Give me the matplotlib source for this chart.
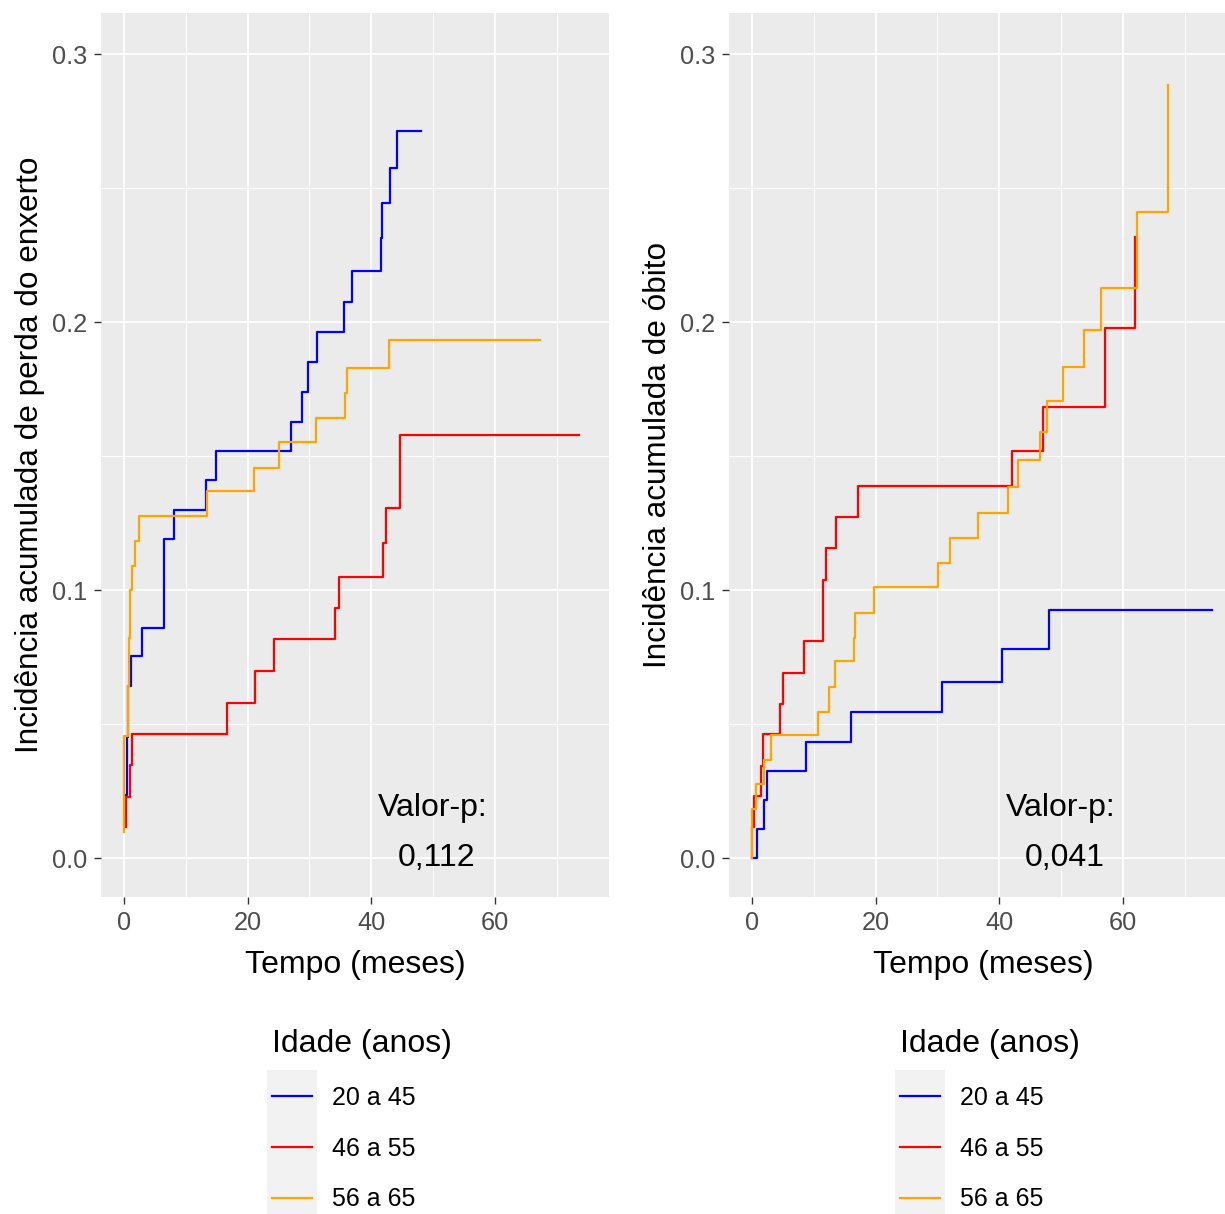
import matplotlib
matplotlib.use("Agg")
import matplotlib.pyplot as plt
from matplotlib.patches import Rectangle
from matplotlib.lines import Line2D
from matplotlib.ticker import MultipleLocator

plt.rcParams['font.family'] = ['Liberation Sans', 'DejaVu Sans']

# ---------------- data ----------------
groups = ["20 a 45", "46 a 55", "56 a 65"]
colors = ["#0000FF", "#FF0000", "#FFA500"]

# Left panel: cumulative incidence of graft loss
graft_t_20_45 = [0.32, 0.45, 0.55, 0.6, 0.7, 1.1, 2.85, 6.4, 6.5, 8.1, 13.3, 14.8, 27.0, 28.8,
                 29.7, 31.2, 35.6, 36.9, 41.5, 41.8, 43.1, 44.1, 48.0]
graft_v_20_45 = [0.0235, 0.0322, 0.0453, 0.0540, 0.0643, 0.0755, 0.0859, 0.1077, 0.1189, 0.1300,
                 0.1409, 0.1519, 0.1628, 0.1738, 0.1852, 0.1964, 0.2076, 0.2189, 0.2314, 0.2445,
                 0.2576, 0.2714, 0.2714]
graft_t_46_55 = [0.32, 0.36, 0.97, 1.24, 16.6, 21.2, 24.2, 34.1, 34.7, 41.9, 42.3, 44.6, 73.6]
graft_v_46_55 = [0.0114, 0.0229, 0.0347, 0.0463, 0.0580, 0.0698, 0.0816, 0.0933, 0.1050, 0.1174,
                 0.1307, 0.1580, 0.1580]
graft_t_56_65 = [0.0, 0.05, 0.7, 0.85, 1.0, 1.3, 1.7, 2.4, 13.4, 21.0, 25.1, 31.1, 35.8, 36.1,
                 42.9, 67.3]
graft_v_56_65 = [0.0096, 0.0456, 0.0640, 0.0820, 0.1000, 0.1091, 0.1184, 0.1275, 0.1369, 0.1456,
                 0.1551, 0.1641, 0.1734, 0.1829, 0.1933, 0.1933]

# Right panel: cumulative incidence of death
death_t_20_45 = [0.0, 0.86, 1.9, 2.4, 8.7, 16.0, 30.8, 40.4, 48.1, 74.4]
death_v_20_45 = [0.0, 0.0107, 0.0216, 0.0325, 0.0433, 0.0544, 0.0657, 0.0780, 0.0924, 0.0924]
death_t_46_55 = [0.0, 0.05, 0.3, 1.4, 1.7, 4.5, 5.07, 8.4, 11.5, 11.9, 13.6, 17.1, 42.0, 47.0,
                 57.1, 62.0]
death_v_46_55 = [0.0, 0.0114, 0.0231, 0.0344, 0.0463, 0.0575, 0.0689, 0.0808, 0.1037, 0.1158,
                 0.1272, 0.1388, 0.1519, 0.1684, 0.1979, 0.2318]
death_t_56_65 = [0.0, 0.05, 0.6, 1.9, 3.1, 10.7, 12.45, 13.4, 16.5, 16.7, 19.7, 30.1, 32.1, 36.6,
                 41.4, 43.0, 46.5, 47.7, 50.3, 53.7, 56.5, 62.3, 67.2]
death_v_56_65 = [0.0, 0.0183, 0.0275, 0.0364, 0.0459, 0.0546, 0.0639, 0.0734, 0.0821, 0.0916,
                 0.1010, 0.1100, 0.1194, 0.1286, 0.1384, 0.1486, 0.1591, 0.1706, 0.1832, 0.1970,
                 0.2128, 0.2412, 0.2884]

pvalues = ["0,112", "0,041"]
ylabels = ["Incidência acumulada de perda do enxerto", "Incidência acumulada de óbito"]
xlabel = "Tempo (meses)"
legend_title = "Idade (anos)"

panels = [
    [(graft_t_20_45, graft_v_20_45), (graft_t_46_55, graft_v_46_55), (graft_t_56_65, graft_v_56_65)],
    [(death_t_20_45, death_v_20_45), (death_t_46_55, death_v_46_55), (death_t_56_65, death_v_56_65)],
]

# ---------------- figure ----------------
W, H = 1225, 1214
fig = plt.figure(figsize=(W / 100, H / 100), dpi=100)

panel_left_px = [101, 729]
panel_w_px = 508
panel_top_px, panel_bot_px = 13, 897
legend_x_px = [267, 895]

for i in range(2):
    ax = fig.add_axes([panel_left_px[i] / W, 1 - panel_bot_px / H,
                       panel_w_px / W, (panel_bot_px - panel_top_px) / H])
    ax.set_facecolor("#EBEBEB")
    for s in ax.spines.values():
        s.set_visible(False)
    ax.set_xlim(-3.72, 78.44)
    ax.set_ylim(-0.01455, 0.3153)
    ax.xaxis.set_major_locator(MultipleLocator(20))
    ax.xaxis.set_minor_locator(MultipleLocator(10))
    ax.yaxis.set_major_locator(MultipleLocator(0.1))
    ax.yaxis.set_minor_locator(MultipleLocator(0.05))
    ax.grid(which="major", color="white", linewidth=1.3)
    ax.grid(which="minor", color="white", linewidth=0.7)
    ax.set_axisbelow(True)
    ax.yaxis.set_major_formatter(matplotlib.ticker.FormatStrFormatter("%.1f"))
    ax.tick_params(which="major", length=5.3, width=1.0, color="#333333",
                   labelsize=18.3, labelcolor="#4D4D4D", pad=4.5)
    ax.tick_params(which="minor", length=0)

    handles = []
    for (t, v), c, g in zip(panels[i], colors, groups):
        ax.step(t, v, where="post", color=c, linewidth=1.6, label=g)
        handles.append(Line2D([], [], color=c, linewidth=1.6))

    ax.text(50, 0.0185, "Valor-p:", ha="center", va="center", fontsize=23, color="black")
    ax.text(50.6, 0.0, pvalues[i], ha="center", va="center", fontsize=23, color="black")

    ax.set_xlabel(xlabel, fontsize=23, color="black", labelpad=11)
    ax.set_ylabel(ylabels[i], fontsize=22.7, color="black", labelpad=5)

    # legend key background
    fig.patches.append(Rectangle((legend_x_px[i] / W, 1 - 1222 / H), 50 / W, 152 / H,
                                 transform=fig.transFigure, facecolor="#F2F2F2",
                                 edgecolor="none", zorder=-1))
    leg = ax.legend(handles, groups, loc="upper left",
                    bbox_to_anchor=((legend_x_px[i] + 5) / W, 1 - 1029 / H),
                    bbox_transform=fig.transFigure, frameon=False, borderpad=0,
                    borderaxespad=0, title=legend_title, title_fontsize=23,
                    fontsize=18, handlelength=1.6, handletextpad=0.8,
                    labelspacing=1.07, alignment="left")
    leg.set_zorder(5)

fig.savefig("out.png", dpi=100)
